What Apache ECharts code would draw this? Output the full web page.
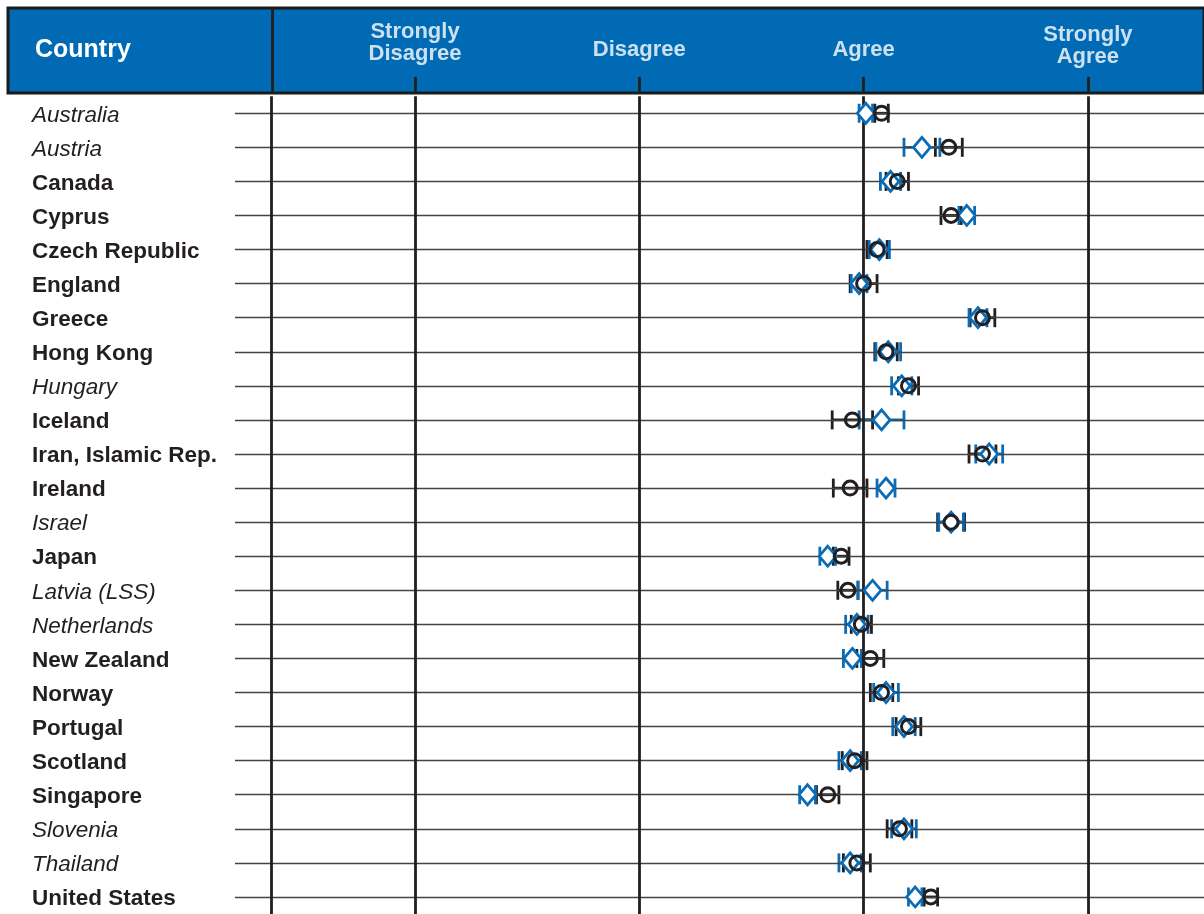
<!DOCTYPE html>
<html>
<head>
    <meta charset="utf-8">
    <title>country agreement</title>
    <style>
        html, body { margin: 0; padding: 0; background: #fff; }
        #main { width: 1204px; height: 914px; }
    </style>
</head>
<body>
<div id="main"></div>

<script src="https://cdn.jsdelivr.net/npm/echarts@6/dist/echarts.min.js"></script>
<script>
    var countries = ['Australia', 'Austria', 'Canada', 'Cyprus', 'Czech Republic', 'England', 'Greece',
        'Hong Kong', 'Hungary', 'Iceland', 'Iran, Islamic Rep.', 'Ireland', 'Israel', 'Japan',
        'Latvia (LSS)', 'Netherlands', 'New Zealand', 'Norway', 'Portugal', 'Scotland', 'Singapore',
        'Slovenia', 'Thailand', 'United States'];
    var italicCountries = ['Australia', 'Austria', 'Hungary', 'Israel', 'Latvia (LSS)', 'Netherlands',
        'Slovenia', 'Thailand'];

    // black circle with its error bar (half width)
    var circleMean = [3.08, 3.38, 3.15, 3.39, 3.06, 3.00, 3.53, 3.10, 3.20, 2.95, 3.53, 2.94,
        3.39, 2.90, 2.93, 2.99, 3.03, 3.08, 3.20, 2.96, 2.84, 3.16, 2.97, 3.30];
    var circleErr = [0.03, 0.06, 0.05, 0.045, 0.045, 0.06, 0.055, 0.05, 0.045, 0.09, 0.06, 0.075,
        0.06, 0.035, 0.045, 0.045, 0.06, 0.05, 0.055, 0.055, 0.05, 0.055, 0.06, 0.03];
    // blue diamond with its error bar (half width)
    var diamondMean = [3.01, 3.26, 3.12, 3.46, 3.07, 2.98, 3.51, 3.11, 3.17, 3.08, 3.56, 3.10,
        3.39, 2.84, 3.04, 2.97, 2.95, 3.10, 3.18, 2.94, 2.75, 3.18, 2.94, 3.23];
    var diamondErr = [0.03, 0.08, 0.045, 0.035, 0.045, 0.035, 0.04, 0.055, 0.045, 0.10, 0.06, 0.04,
        0.055, 0.035, 0.065, 0.05, 0.04, 0.055, 0.05, 0.05, 0.035, 0.055, 0.05, 0.03];

    var scaleValues = [1, 2, 3, 4];
    var scaleLabels = ['Strongly\nDisagree', 'Disagree', 'Agree', 'Strongly\nAgree'];

    var black = '#231f20';
    var blue = '#0b6cb5';
    var headBlue = '#006ab5';
    var font = '"Liberation Sans", Arial, sans-serif';

    // layout: one scale step is 224.3px and value 1 sits at x = 415
    var pxPerUnit = 224.3, xOne = 415, chartW = 1204;
    var headLeft = 8, bodyLeft = 235, frameX = 272;
    var axisMax = 1 + (chartW - xOne) / pxPerUnit;
    var headMin = 1 - (xOne - headLeft) / pxPerUnit;
    var bodyMin = 1 - (xOne - bodyLeft) / pxPerUnit;
    var frameValue = 1 - (xOne - frameX) / pxPerUnit;

    var errRender = function (color) {
        return function (params, api) {
            var row = api.value(2);
            var lo = api.coord([api.value(0), row]);
            var hi = api.coord([api.value(1), row]);
            var h = 9.5;
            var st = { stroke: color, lineWidth: 2.8, fill: null };
            return {
                type: 'group',
                children: [
                    { type: 'line', shape: { x1: lo[0], y1: lo[1], x2: hi[0], y2: hi[1] }, style: st },
                    { type: 'line', shape: { x1: lo[0], y1: lo[1] - h, x2: lo[0], y2: lo[1] + h }, style: st },
                    { type: 'line', shape: { x1: hi[0], y1: hi[1] - h, x2: hi[0], y2: hi[1] + h }, style: st }
                ]
            };
        };
    };

    var errData = function (mean, err) {
        return mean.map(function (m, i) {
            return [m - err[i], m + err[i], i];
        });
    };

    // row lines and the vertical scale lines in the body
    var bodyLines = countries.map(function (c) {
        return { yAxis: c, lineStyle: { color: '#444', width: 1.3, type: 'solid' } };
    });
    scaleValues.forEach(function (v) {
        bodyLines.push({ xAxis: v, lineStyle: { color: black, width: 2.8, type: 'solid' } });
    });
    bodyLines.push({ xAxis: frameValue, lineStyle: { color: black, width: 2.8, type: 'solid' } });

    // short tick stubs inside the header and the frame line
    var headLines = scaleValues.map(function (v) {
        return [{ coord: [v, 0] }, { coord: [v, 0.19] }];
    });
    headLines.push([{ coord: [frameValue, 0] }, { coord: [frameValue, 1] }]);

    var headData = scaleValues.map(function (v, i) {
        var two = scaleLabels[i].indexOf('\n') >= 0;
        var dy = two ? (i === 0 ? -5 : -2) : 2;
        return {
            name: scaleLabels[i],
            value: [v, 0.53],
            label: { offset: [0, dy] }
        };
    });

    var myChart = echarts.init(document.getElementById('main'));

    var option = {
        animation: false,
        backgroundColor: '#fff',
        textStyle: { fontFamily: font },
        grid: [
            {
                left: headLeft, top: 8, right: 0, height: 85,
                show: true, backgroundColor: headBlue, borderColor: '#1a1a1a', borderWidth: 3
            },
            {
                left: bodyLeft, top: 96.2, right: 0, height: 818.4
            }
        ],
        xAxis: [
            { gridIndex: 0, type: 'value', min: headMin, max: axisMax, show: false },
            { gridIndex: 1, type: 'value', min: bodyMin, max: axisMax, show: false }
        ],
        yAxis: [
            { gridIndex: 0, type: 'value', min: 0, max: 1, show: false },
            {
                gridIndex: 1,
                type: 'category',
                data: countries,
                inverse: true,
                axisLine: { show: false },
                axisTick: { show: false },
                splitLine: { show: false },
                axisLabel: {
                    align: 'left',
                    margin: bodyLeft - 32,
                    formatter: function (v) {
                        return italicCountries.indexOf(v) >= 0 ? '{i|' + v + '}' : '{b|' + v + '}';
                    },
                    rich: {
                        i: { fontStyle: 'italic', fontSize: 22.5, color: black, fontFamily: font, padding: [4, 0, 0, 0] },
                        b: { fontWeight: 'bold', fontSize: 22.5, color: black, fontFamily: font, padding: [4, 0, 0, 0] }
                    }
                }
            }
        ],
        graphic: [
            {
                type: 'text',
                left: 35,
                top: 38,
                style: { text: 'Country', fill: '#fff', font: 'bold 25px ' + font }
            }
        ],
        series: [
            {
                name: 'header',
                type: 'scatter',
                xAxisIndex: 0,
                yAxisIndex: 0,
                symbolSize: 0,
                silent: true,
                data: headData,
                label: {
                    show: true,
                    position: 'inside',
                    formatter: '{b}',
                    color: '#fff',
                    fontWeight: 'bold',
                    fontSize: 22,
                    lineHeight: 22,
                    fontFamily: font
                },
                markLine: {
                    silent: true,
                    symbol: 'none',
                    label: { show: false },
                    lineStyle: { color: black, width: 2.8, type: 'solid' },
                    data: headLines
                },
                z: 3
            },
            {
                name: 'frame',
                type: 'scatter',
                xAxisIndex: 1,
                yAxisIndex: 1,
                symbolSize: 0,
                silent: true,
                data: circleMean.map(function (m, i) { return [m, countries[i]]; }),
                markLine: {
                    silent: true,
                    symbol: 'none',
                    label: { show: false },
                    data: bodyLines
                },
                z: 1
            },
            {
                name: 'circleErr',
                type: 'custom',
                coordinateSystem: 'cartesian2d',
                xAxisIndex: 1,
                yAxisIndex: 1,
                renderItem: errRender(black),
                dimensions: ['lo', 'hi', 'row'],
                encode: { x: ['lo', 'hi'], y: 'row' },
                data: errData(circleMean, circleErr),
                z: 3
            },
            {
                name: 'diamondErr',
                type: 'custom',
                coordinateSystem: 'cartesian2d',
                xAxisIndex: 1,
                yAxisIndex: 1,
                renderItem: errRender(blue),
                dimensions: ['lo', 'hi', 'row'],
                encode: { x: ['lo', 'hi'], y: 'row' },
                data: errData(diamondMean, diamondErr),
                z: 4
            },
            {
                name: 'diamond',
                type: 'scatter',
                xAxisIndex: 1,
                yAxisIndex: 1,
                symbol: 'diamond',
                symbolSize: [17, 20],
                itemStyle: { color: '#fff', borderColor: blue, borderWidth: 2.8, opacity: 1 },
                data: diamondMean.map(function (m, i) { return [m, countries[i]]; }),
                z: 5
            },
            {
                name: 'circle',
                type: 'scatter',
                xAxisIndex: 1,
                yAxisIndex: 1,
                symbol: 'circle',
                symbolSize: 14,
                itemStyle: { color: 'rgba(255,255,255,0)', borderColor: black, borderWidth: 3, opacity: 1 },
                data: circleMean.map(function (m, i) { return [m, countries[i]]; }),
                z: 6
            }
        ]
    };

    myChart.setOption(option);
</script>
</body>
</html>
